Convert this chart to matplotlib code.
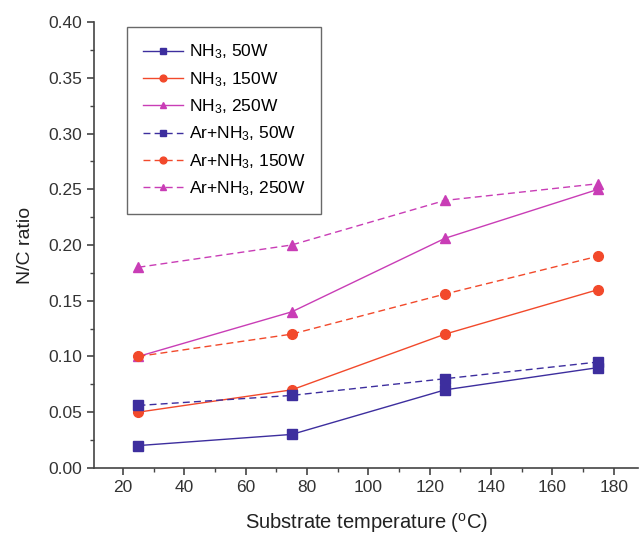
import matplotlib
matplotlib.use("Agg")
import matplotlib.pyplot as plt

plt.rcParams["font.family"] = ["Liberation Sans", "DejaVu Sans"]
plt.rcParams["mathtext.fontset"] = "custom"
plt.rcParams["mathtext.rm"] = "Liberation Sans"
plt.rcParams["mathtext.it"] = "Liberation Sans"

temps = [25, 75, 125, 175]
nh3_50 = [0.02, 0.03, 0.07, 0.09]
nh3_150 = [0.05, 0.07, 0.12, 0.16]
nh3_250 = [0.10, 0.14, 0.206, 0.25]
ar_50 = [0.056, 0.065, 0.08, 0.095]
ar_150 = [0.10, 0.12, 0.156, 0.19]
ar_250 = [0.18, 0.20, 0.24, 0.255]

c50 = "#3d2e9e"
c150 = "#f2492b"
c250 = "#c93db6"

series = [
    ("NH$_3$, 50W", nh3_50, c50, "s", "-"),
    ("NH$_3$, 150W", nh3_150, c150, "o", "-"),
    ("NH$_3$, 250W", nh3_250, c250, "^", "-"),
    ("Ar+NH$_3$, 50W", ar_50, c50, "s", "--"),
    ("Ar+NH$_3$, 150W", ar_150, c150, "o", "--"),
    ("Ar+NH$_3$, 250W", ar_250, c250, "^", "--"),
]

fig = plt.figure(figsize=(6.44, 5.39), dpi=100)
ax = fig.add_axes([0.146, 0.132, 0.845, 0.827])

for label, vals, color, marker, ls in series:
    ax.plot(temps, vals, color=color, marker=marker, ls=ls, lw=1.0,
            ms=7, label=label, dashes=(5, 3) if ls == "--" else (None, None))

ax.set_xlim(10.5, 188)
ax.set_ylim(0, 0.40)
ax.set_xticks(range(20, 181, 20))
ax.set_xticks(range(30, 181, 20), minor=True)
ax.set_yticks([i * 0.05 for i in range(9)])
ax.set_yticks([0.025 + i * 0.05 for i in range(8)], minor=True)
ax.yaxis.set_major_formatter(matplotlib.ticker.FormatStrFormatter("%.2f"))

for side in ["top", "right"]:
    ax.spines[side].set_visible(False)
for side in ["left", "bottom"]:
    ax.spines[side].set_color("#444444")
    ax.spines[side].set_linewidth(1.2)
ax.tick_params(which="major", direction="out", length=5, width=1.2, colors="#444444",
               labelsize=12.5, labelcolor="#333333")
ax.tick_params(which="minor", direction="out", length=3, width=1.0, colors="#444444")

ax.set_xlabel("Substrate temperature ($^{\\rm o}$C)", fontsize=14.5, color="#222222", labelpad=12)
ax.set_ylabel("N/C ratio", fontsize=14, color="#222222", labelpad=10)

leg = ax.legend(loc="upper left", bbox_to_anchor=(0.061, 0.989), fontsize=12.5,
                frameon=True, fancybox=False, markerscale=0.7, handlelength=2.3,
                labelspacing=0.5, borderpad=0.9, handletextpad=0.35, borderaxespad=0)
leg.get_frame().set_edgecolor("#444444")
leg.get_frame().set_linewidth(1.0)

fig.savefig("out.png", dpi=100)
